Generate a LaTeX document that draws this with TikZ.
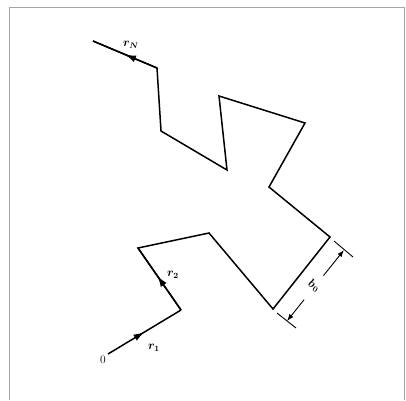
\documentclass[tikz,border=0pt]{standalone}
\usetikzlibrary{arrows.meta,decorations.markings,calc}
\begin{document}
\begin{tikzpicture}[x=1pt,y=-1pt,
  chain/.style={line width=1.5pt,line join=miter},
  midarrow/.style={postaction={decorate},decoration={markings,mark=at position #1 with {\arrow{Latex[length=11pt,width=7pt]}}}},
  dimline/.style={line width=0.9pt},
  lbl/.style={font=\fontsize{11.5}{13}\selectfont\boldmath,inner sep=1pt}]
\useasboundingbox (0,0) rectangle (406,400);
\draw[gray!70,line width=1pt] (9,400) -- (9,7) -- (404,7) -- (404,400);
\coordinate (p0) at (108,354);
\coordinate (p1) at (181,310);
\coordinate (p2) at (138,248);
\coordinate (p3) at (209,233);
\coordinate (p4) at (273,309);
\coordinate (p5) at (330,237);
\coordinate (p6) at (269,187);
\coordinate (p7) at (305,123);
\coordinate (p8) at (219,96);
\coordinate (p9) at (227,170);
\coordinate (p10) at (161,131);
\coordinate (p11) at (157,68);
\coordinate (p12) at (93,41);
\draw[chain,midarrow=0.5] (p0) -- (p1);
\draw[chain,midarrow=0.55] (p1) -- (p2);
\draw[chain] (p1) -- (p2) -- (p3) -- (p4) -- (p5) -- (p6) -- (p7) -- (p8) -- (p9) -- (p10) -- (p11) -- (p12);
\draw[chain,midarrow=0.5] (p11) -- (p12);
\node[lbl] (l0) at (103,360) {0};
\node[lbl] (l1) at (154,348) {$r_1$};
\node[lbl] (l2) at (173,275) {$r_2$};
\node[lbl] (lN) at (131,45) {$r_N$};
% dimension b0
\coordinate (e1a) at (334,241);
\coordinate (e1b) at (353,257);
\coordinate (e2a) at (277,313);
\coordinate (e2b) at (296,328);
\draw[dimline] (e1a) -- (e1b);
\draw[dimline] (e2a) -- (e2b);
\coordinate (d1) at (344,250);
\coordinate (d2) at (287,321);
\node[lbl,rotate=-30] (b0) at (314,286) {$b_0$};
\draw[dimline,-{Latex[length=7pt,width=5pt]}] ($(d1)!0.36!(d2)$) -- (d1);
\draw[dimline,-{Latex[length=7pt,width=5pt]}] ($(d1)!0.70!(d2)$) -- (d2);
\end{tikzpicture}
\end{document}
